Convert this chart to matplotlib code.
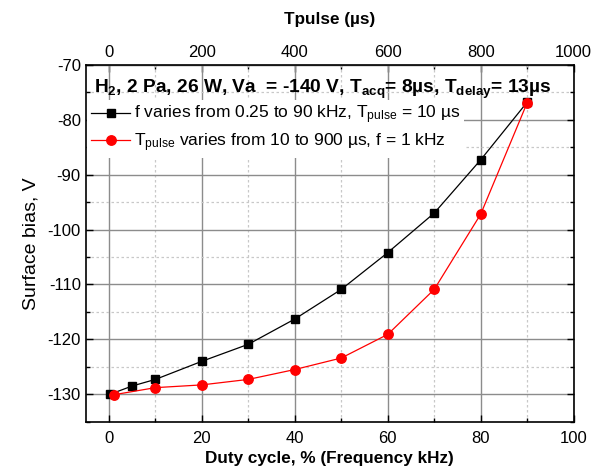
import matplotlib
matplotlib.use("Agg")
import matplotlib.pyplot as plt
from matplotlib.ticker import MultipleLocator, FixedLocator

plt.rcParams['font.family'] = 'Liberation Sans'
plt.rcParams['axes.unicode_minus'] = False
plt.rcParams['mathtext.fontset'] = 'custom'
plt.rcParams['mathtext.rm'] = 'Liberation Sans'
plt.rcParams['mathtext.it'] = 'Liberation Sans:italic'
plt.rcParams['mathtext.bf'] = 'Liberation Sans:bold'

# frequency scan, Tpulse = 10 us -> duty cycle in %
duty_f = [0.25, 5, 10, 20, 30, 40, 50, 60, 70, 80, 90]
bias_f = [-130.0, -128.5, -127.3, -124.0, -120.9, -116.3, -110.9, -104.2, -97.0, -87.3, -76.8]

# pulse-length scan, f = 1 kHz
duty_t = [1, 10, 20, 30, 40, 50, 60, 70, 80, 90]
bias_t = [-130.1, -128.8, -128.3, -127.3, -125.5, -123.4, -119.1, -110.9, -97.2, -76.9]

tpulse_major = [0, 200, 400, 600, 800, 1000]
tpulse_minor = [100, 300, 500, 700, 900]

fig = plt.figure(figsize=(6.05, 4.73), dpi=100)
ax = fig.add_axes([0.1417, 0.1085, 0.8065, 0.7545])

ax.plot(duty_f, bias_f, color='black', lw=0.9, marker='s', ms=6,
        label='f varies from 0.25 to 90 kHz, T$_{\\mathrm{pulse}}$ = 10 µs', zorder=3)
ax.plot(duty_t, bias_t, color='red', lw=0.9, marker='o', ms=6.8,
        label='T$_{\\mathrm{pulse}}$ varies from 10 to 900 µs, f = 1 kHz', zorder=3)

ax.set_xlim(-5, 100)
ax.set_ylim(-135, -70)
ax.xaxis.set_major_locator(MultipleLocator(20))
ax.xaxis.set_minor_locator(MultipleLocator(10))
ax.yaxis.set_major_locator(MultipleLocator(10))
ax.yaxis.set_minor_locator(MultipleLocator(5))

ax.grid(True, which='major', color='#8c8c8c', lw=1.0, ls='-')
ax.grid(True, which='minor', color='#c8c8c8', lw=0.9, ls=(0, (2, 2)))
ax.set_axisbelow(True)

ax.tick_params(which='both', direction='in', top=False, right=True, labelsize=12)
ax.tick_params(axis='x', pad=7)
ax.tick_params(which='major', length=5, width=1)
ax.tick_params(which='minor', length=3, width=1)
for s in ax.spines.values():
    s.set_linewidth(1.2)

ax.set_xlabel('Duty cycle, % (Frequency kHz)', fontsize=12.3, fontweight='bold', labelpad=3)
ax.set_ylabel('Surface bias, V', fontsize=14, labelpad=6)

top = ax.secondary_xaxis('top', functions=(lambda x: x * 10, lambda x: x / 10))
top.xaxis.set_major_locator(FixedLocator(tpulse_major))
top.xaxis.set_minor_locator(FixedLocator(tpulse_minor))
top.tick_params(which='both', direction='in', labelsize=12)
top.tick_params(which='major', length=5, width=1)
top.tick_params(which='minor', length=3, width=1)
top.set_xlabel('Tpulse (µs)', fontsize=12.3, fontweight='bold', labelpad=15)

ax.text(0.017, 0.93,
        'H$_\\mathbf{2}$, 2 Pa, 26 W, Va  = -140 V, T$_{\\mathbf{acq}}$= 8µs, T$_{\\mathbf{delay}}$= 13µs',
        transform=ax.transAxes, fontsize=13.8, fontweight='bold', va='center', ha='left', zorder=4)

leg = ax.legend(loc='upper left', bbox_to_anchor=(-0.015, 0.925), fontsize=12.5,
                frameon=True, framealpha=1, edgecolor='none', facecolor='white',
                handlelength=2.3, handletextpad=0.2, labelspacing=0.3,
                borderpad=0.2, fancybox=False)
leg.set_zorder(4)

fig.savefig('out.png', dpi=100)
